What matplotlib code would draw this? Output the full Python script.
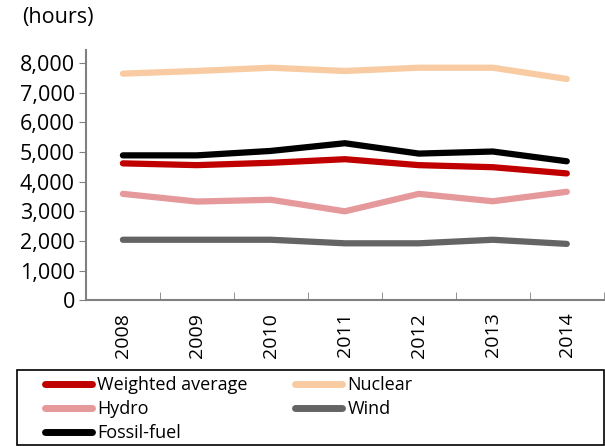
import matplotlib.pyplot as plt
from matplotlib.ticker import FuncFormatter
from matplotlib.patches import Rectangle

years = ['2008', '2009', '2010', '2011', '2012', '2013', '2014']
weighted = [4620, 4560, 4640, 4760, 4560, 4490, 4280]
nuclear = [7650, 7740, 7850, 7740, 7850, 7850, 7470]
hydro = [3590, 3330, 3390, 3000, 3590, 3340, 3660]
wind = [2040, 2040, 2040, 1920, 1920, 2040, 1900]
fossil = [4890, 4890, 5040, 5300, 4950, 5020, 4690]

plt.rcParams['font.family'] = ['Open Sans', 'DejaVu Sans']

fig = plt.figure(figsize=(6.05, 4.46), dpi=100)
ax = fig.add_axes([0.142, 0.327, 0.856, 0.561])

x = range(len(years))
lw = 4.5
l_w, = ax.plot(x, weighted, color='#C00000', lw=lw, solid_capstyle='round', label='Weighted average')
l_n, = ax.plot(x, nuclear, color='#F8CBA2', lw=lw, solid_capstyle='round', label='Nuclear')
l_h, = ax.plot(x, hydro, color='#E6999B', lw=lw, solid_capstyle='round', label='Hydro')
l_wi, = ax.plot(x, wind, color='#646464', lw=lw, solid_capstyle='round', label='Wind')
l_f, = ax.plot(x, fossil, color='#000000', lw=lw, solid_capstyle='round', label='Fossil-fuel')

ax.set_xlim(-0.5, len(years) - 0.5)
ax.set_ylim(0, 8450)
ax.set_yticks(range(0, 8001, 1000))
ax.yaxis.set_major_formatter(FuncFormatter(lambda v, p: f'{int(v):,}'))
ax.set_xticks([i for i in x])
ax.set_xticklabels(years, rotation=90)
ax.set_xticks([i - 0.5 for i in range(len(years) + 1)], minor=True)
ax.tick_params(axis='x', which='major', length=0, pad=9, labelsize=14)
ax.tick_params(axis='x', which='minor', length=6, color='#808080', direction='in')
ax.tick_params(axis='y', length=5, color='#808080', labelsize=15.5, pad=3)

for s in ['top', 'right']:
    ax.spines[s].set_visible(False)
for s in ['left', 'bottom']:
    ax.spines[s].set_color('#808080')
    ax.spines[s].set_linewidth(1.5)

fig.text(0.036, 0.96, '(hours)', fontsize=15.5, ha='left', va='center')

# legend box drawn separately so it spans the full width
fig.patches.append(Rectangle((17 / 605, 1 / 446), 587 / 605, 75 / 446, transform=fig.transFigure,
                             fill=False, edgecolor='black', lw=1.2))

# column-wise order so rows read: Weighted/Nuclear, Hydro/Wind, Fossil
handles = [l_w, l_h, l_f, l_n, l_wi]
leg = fig.legend(handles, [h.get_label() for h in handles], loc='upper left',
                 bbox_to_anchor=(45 / 605, 1 - 376 / 446), ncol=2, fontsize=13, frameon=False,
                 handlelength=2.6, handletextpad=0.28, labelspacing=0.34, borderpad=0,
                 columnspacing=2.65, borderaxespad=0)
for h in leg.legend_handles:
    h.set_linewidth(5)

fig.savefig('out.png', dpi=100)
